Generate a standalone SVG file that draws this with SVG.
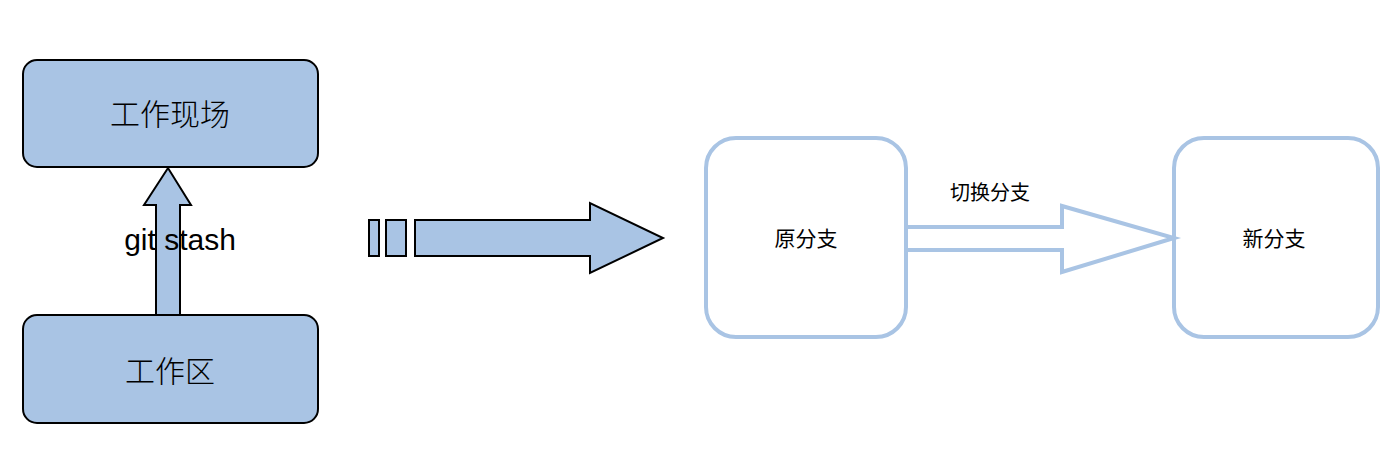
<svg xmlns="http://www.w3.org/2000/svg" width="1380" height="454" viewBox="0 0 1380 454">
<style>
.fb{fill:#a9c4e4;stroke:#000;stroke-width:2}
.ob{fill:#fff;stroke:#a9c4e4;stroke-width:4}
.cj{font-family:"Noto Sans CJK SC",sans-serif;fill:#000;text-anchor:middle}
</style>
<rect width="1380" height="454" fill="#fff"/>
<g id="scene">
<g id="n1"><rect class="fb" x="23" y="60" width="295" height="107" rx="14"/><text class="cj" x="170" y="125" font-size="30" font-weight="300">工作现场</text></g>
<g id="n2"><rect class="fb" x="23" y="315" width="295" height="108" rx="14"/><text class="cj" x="170" y="382" font-size="30" font-weight="300">工作区</text></g>
<g id="n3"><rect class="ob" x="706" y="138" width="200" height="199" rx="30"/><text class="cj" x="806" y="246" font-size="21">原分支</text></g>
<g id="n4"><rect class="ob" x="1174" y="138" width="204" height="199" rx="30"/><text class="cj" x="1274" y="246" font-size="21">新分支</text></g>
</g>
<g id="connectors">
<polygon class="fb" stroke-width="1.5" points="156,315 156,205 144,205 168,168 191,205 180,205 180,315"/>
<text x="180" y="250" font-family="Liberation Sans,sans-serif" font-size="30" text-anchor="middle">git stash</text>
<rect class="fb" stroke-width="1.5" x="369" y="220" width="10" height="36"/>
<rect class="fb" stroke-width="1.5" x="386" y="220" width="20" height="36"/>
<polygon class="fb" stroke-width="1.5" points="415,220 590,220 590,203 663,238 590,273 590,256 415,256"/>
<polygon fill="#fff" stroke="#a9c4e4" stroke-width="4" points="906,227 1062,227 1062,206 1174,238 1062,272 1062,250 906,250"/>
<text class="cj" x="990" y="200" font-size="20">切换分支</text>
</g>
</svg>
